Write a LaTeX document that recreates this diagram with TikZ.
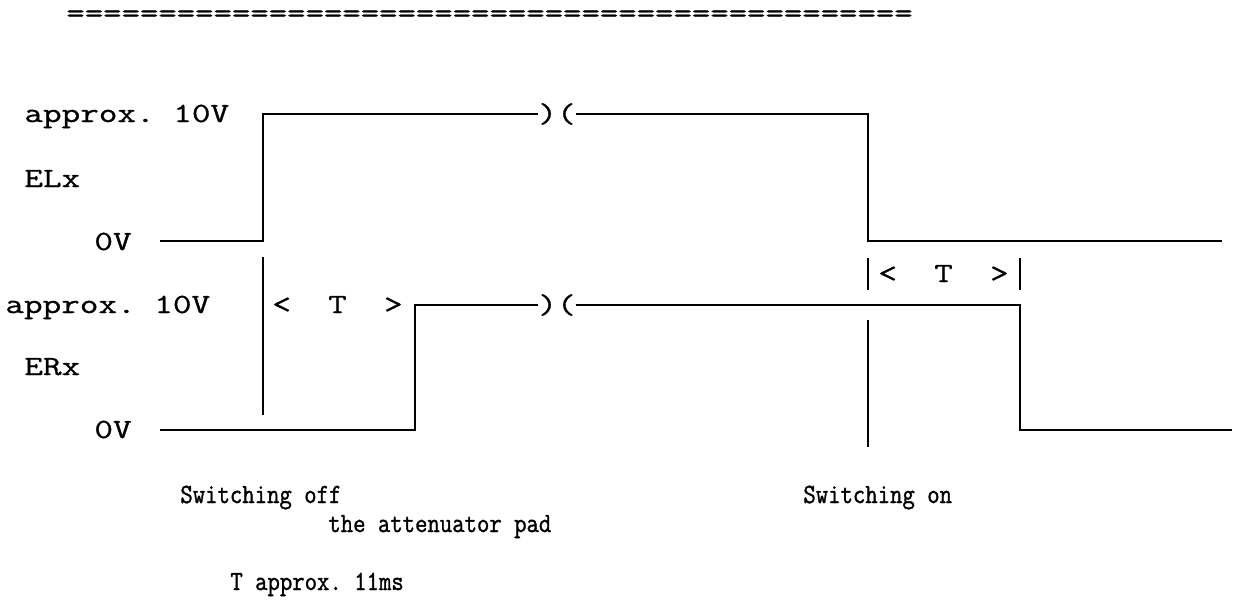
\documentclass[tikz,border=0pt]{standalone}
\usepackage{fontspec}
\usepackage{graphicx}
\newfontfamily\typefont{Latin Modern Mono}[FakeBold=0.8]
\newfontfamily\condfont{Latin Modern Mono}[FakeBold=1.3]
\newcommand{\widett}[1]{\scalebox{1.30}[1]{#1}}
\newcommand{\narrowtt}[1]{\scalebox{0.865}[1]{\condfont #1}}

\begin{document}
\begin{tikzpicture}[
  x=0.5pt, y=-0.5pt,
  font=\typefont\fontsize{13.9}{16}\selectfont\frenchspacing,
  lbl/.style={inner sep=0pt, anchor=base west},
  brk/.style={inner sep=0pt},
  wave/.style={line width=1.2pt},
  marker/.style={line width=1.1pt}
]
\useasboundingbox (0,0) rectangle (1235,601);

\node[lbl] (rule) at (66,22) {\scalebox{1.285}[1]{==============================================}};

\node[lbl] (elhigh) at (24,122) {\widett{approx. 10V}};
\node[lbl] (elname) at (24,187) {\widett{ELx}};
\node[lbl] (ellow) at (94,250) {\widett{0V}};
\node[lbl] (erhigh) at (5,313) {\widett{approx. 10V}};
\node[lbl] (ername) at (24,375) {\widett{ERx}};
\node[lbl] (erlow) at (94,438) {\widett{0V}};

\node[lbl] (tleft) at (272,313) {\widett{<~~T~~>}};
\node[lbl] (tright) at (878,282) {\widett{<~~T~~>}};

\node[brk] (elbreak) at (557,114) {\widett{)(}};
\node[brk] (erbreak) at (557,305) {\widett{)(}};

\node[lbl] (off) at (180,503) {\narrowtt{Switching off}};
\node[lbl] (pad) at (328,532) {\narrowtt{the attenuator pad}};
\node[lbl] (on) at (803,503) {\narrowtt{Switching on}};
\node[lbl] (tval) at (230,590) {\narrowtt{T approx. 11ms}};

\draw[wave] (160,241) -- (263,241) |- (elbreak.west);
\draw[wave] (elbreak.east) -| (868,241) -- (1222,241);
\draw[wave] (160,430) -- (415,430) |- (erbreak.west);
\draw[wave] (erbreak.east) -| (1020,430) -- (1232,430);

\draw[marker] (263,257) -- (263,415);
\draw[marker] (868,258) -- (868,290);
\draw[marker] (1020,258) -- (1020,290);
\draw[marker] (868,320) -- (868,447);

\end{tikzpicture}
\end{document}
